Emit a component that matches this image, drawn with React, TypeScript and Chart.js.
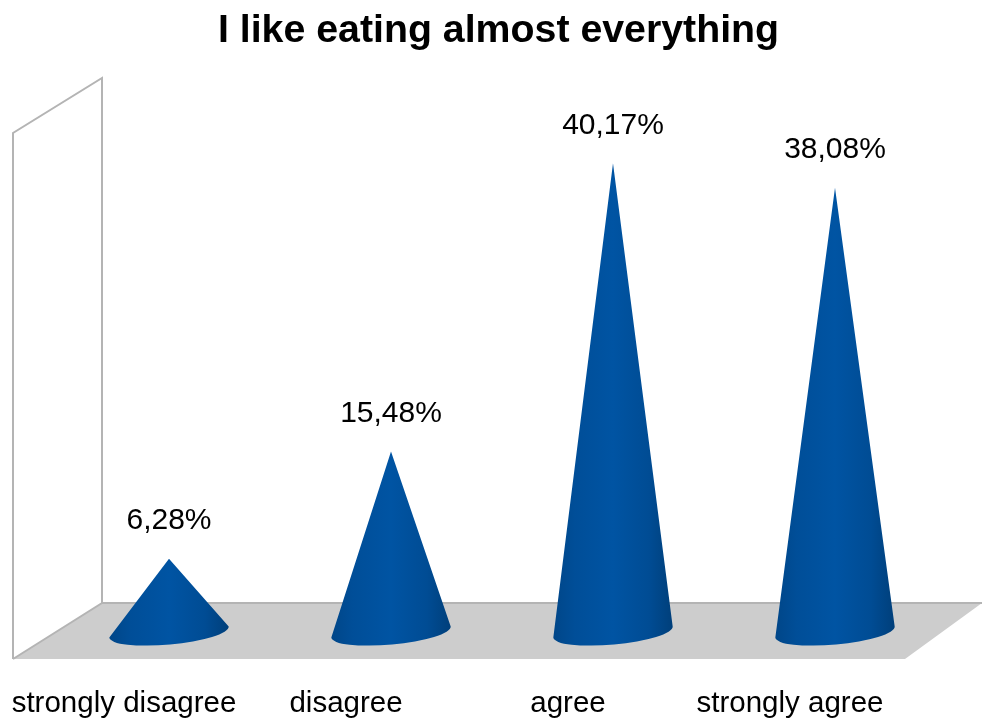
import React, { useEffect, useRef } from "react";
import { Chart, registerables } from "chart.js";

Chart.register(...registerables);

const categories = ["strongly disagree", "disagree", "agree", "strongly agree"];
const percentValues = [6.28, 15.48, 40.17, 38.08];
const chartTitle = "I like eating almost everything";
const axisMax = 45;

const FONT = "'Liberation Sans', Arial, sans-serif";

const stage3d = {
  id: "stage3d",
  beforeDatasetsDraw(chart: any) {
    const { ctx, chartArea: a } = chart;
    const backBottom = a.bottom - 29;
    const frontBottom = a.bottom + 27;
    const backLeft = a.left + 44;
    const frontLeft = a.left - 45;
    const backRight = a.right + 36;
    const frontRight = a.right - 41;
    const backTop = a.top - 29;
    const frontTop = a.top + 26;
    ctx.save();
    ctx.fillStyle = "#cdcdcd";
    ctx.beginPath();
    ctx.moveTo(frontLeft, frontBottom);
    ctx.lineTo(backLeft, backBottom);
    ctx.lineTo(backRight, backBottom);
    ctx.lineTo(frontRight, frontBottom);
    ctx.closePath();
    ctx.fill();
    ctx.strokeStyle = "#b4b4b4";
    ctx.lineWidth = 2;
    ctx.beginPath();
    ctx.moveTo(backLeft, backBottom);
    ctx.lineTo(backRight, backBottom);
    ctx.stroke();
    ctx.beginPath();
    ctx.moveTo(frontLeft, frontBottom);
    ctx.lineTo(frontLeft, frontTop);
    ctx.lineTo(backLeft, backTop);
    ctx.lineTo(backLeft, backBottom);
    ctx.lineTo(frontLeft, frontBottom);
    ctx.stroke();
    ctx.restore();
  },
};

const cones = {
  id: "cones",
  afterDatasetsDraw(chart: any) {
    const { ctx } = chart;
    const meta = chart.getDatasetMeta(0);
    const tilt = (-5.3 * Math.PI) / 180;
    meta.data.forEach((bar: any, i: number) => {
      const { x, y, base, width } = bar.getProps(["x", "y", "base", "width"], true);
      const rx = width / 2;
      const ry = 12.5;
      const grad = ctx.createLinearGradient(x - rx, 0, x + rx, 0);
      grad.addColorStop(0, "#004688");
      grad.addColorStop(0.18, "#004e98");
      grad.addColorStop(0.5, "#0054a3");
      grad.addColorStop(0.8, "#004c94");
      grad.addColorStop(1, "#003f7a");
      ctx.save();
      ctx.fillStyle = grad;
      ctx.beginPath();
      ctx.moveTo(x, y);
      ctx.ellipse(x, base, rx, ry, tilt, 0, Math.PI, false);
      ctx.closePath();
      ctx.fill();
      ctx.fillStyle = "#000000";
      ctx.font = `30px ${FONT}`;
      ctx.textAlign = "center";
      ctx.textBaseline = "middle";
      const text = percentValues[i].toFixed(2).replace(".", ",") + "%";
      ctx.fillText(text, x, y - 37.5);
      ctx.restore();
    });
  },
};

export default function App() {
  const ref = useRef<HTMLCanvasElement>(null);
  useEffect(() => {
    const chart = new Chart(ref.current as HTMLCanvasElement, {
      type: "bar",
      data: {
        labels: categories,
        datasets: [
          {
            label: chartTitle,
            data: percentValues,
            backgroundColor: "rgba(0,0,0,0)",
            borderWidth: 0,
            barPercentage: 0.54,
            categoryPercentage: 1,
          },
        ],
      },
      plugins: [stage3d, cones],
      options: {
        responsive: false,
        animation: false,
        layout: { padding: { left: 15, right: 0, top: 0, bottom: 0 } },
        plugins: {
          legend: { display: false },
          tooltip: { enabled: false },
          title: {
            display: true,
            text: chartTitle,
            color: "#000000",
            font: { family: FONT, size: 39.3, weight: "bold" },
            padding: { top: 8, bottom: 51.8 },
          },
        },
        scales: {
          x: {
            type: "category",
            grid: { display: false },
            border: { display: false },
            afterFit: (s: any) => {
              s.height = 87;
            },
            ticks: {
              color: "#000000",
              font: { family: FONT, size: 29.5 },
              padding: 46.5,
              labelOffset: -45,
              maxRotation: 0,
              minRotation: 0,
              autoSkip: false,
            },
          },
          y: {
            min: 0,
            max: axisMax,
            grid: { display: false },
            border: { display: false },
            ticks: { display: false },
            afterFit: (s: any) => {
              s.width = 43;
            },
          },
          yRight: {
            position: "right",
            min: 0,
            max: axisMax,
            grid: { display: false },
            border: { display: false },
            ticks: { display: false },
            afterFit: (s: any) => {
              s.width = 36;
            },
          },
        },
      },
    } as any);
    return () => chart.destroy();
  }, []);
  return (
    <div style={{ position: "absolute", left: 0, top: 0, width: 982, height: 719, background: "#fff" }}>
      <canvas ref={ref} width={982} height={719} style={{ display: "block" }} />
    </div>
  );
}
